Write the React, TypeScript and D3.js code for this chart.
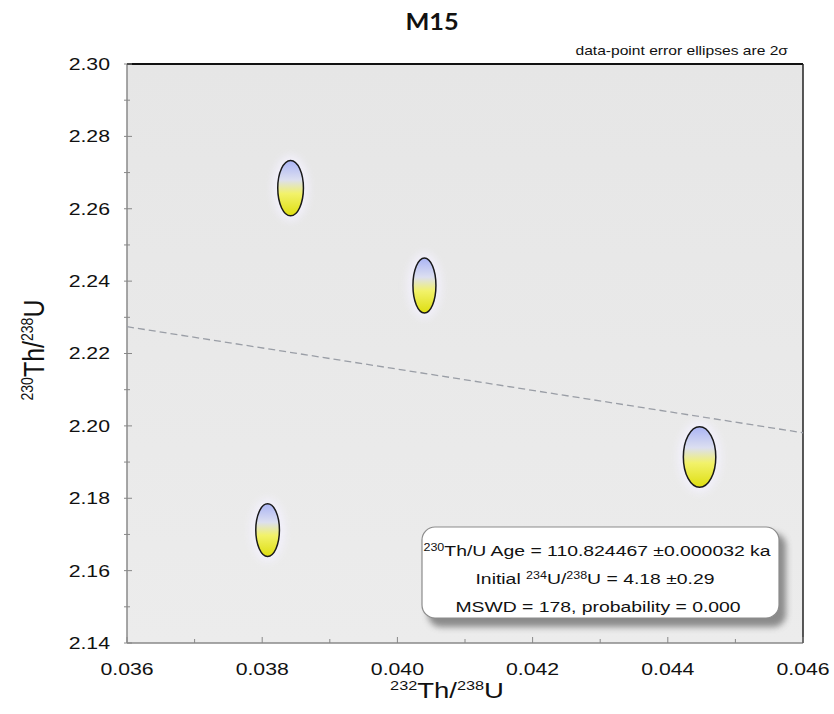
import React from "react";
import * as d3 from "d3";

// 232Th/238U vs 230Th/238U, 2-sigma half axes
const thX = [0.03808, 0.03842, 0.0404, 0.04447];
const thY = [2.1712, 2.2657, 2.2388, 2.1914];
const errX = [0.000175, 0.00019, 0.00017, 0.00024];
const errY = [0.00727, 0.00765, 0.0076, 0.00838];

// isochron (dashed)
const lineX = [0.036, 0.046];
const lineY = [2.2274, 2.1981];

const xTicks = [0.036, 0.038, 0.04, 0.042, 0.044, 0.046];
const yTicks = [2.14, 2.16, 2.18, 2.2, 2.22, 2.24, 2.26, 2.28, 2.3];
const xMinor = d3.range(0.036, 0.0465, 0.001);
const yMinor = d3.range(2.14, 2.305, 0.01);

const W = 834;
const H = 714;
const left = 127;
const right = 803;
const top = 64;
const bottom = 643;

const font = "'Liberation Sans', Arial, sans-serif";
const SX = 1.25; // the source picture is a bit stretched sideways

// text stretched horizontally around its anchor
const T = ({ x, y, sx = SX, children, ...rest }: any) => (
  <g transform={`translate(${x},${y}) scale(${sx},1)`}>
    <text x={0} y={0} fontFamily={font} fill="#111" {...rest}>
      {children}
    </text>
  </g>
);

const App = () => {
  const x = d3.scaleLinear().domain([0.036, 0.046]).range([left, right]);
  const y = d3.scaleLinear().domain([2.14, 2.3]).range([bottom, top]);

  const fitLine = d3
    .line<number>()
    .x((d) => x(d))
    .y((_, i) => y(lineY[i]));

  return (
    <svg
      width={W}
      height={H}
      style={{ position: "absolute", left: 0, top: 0, background: "#fff" }}
    >
      <defs>
        <linearGradient id="ellFill" x1="0" y1="0" x2="0" y2="1">
          <stop offset="0%" stopColor="#aab4f4" />
          <stop offset="35%" stopColor="#dcdff0" />
          <stop offset="60%" stopColor="#f2f26a" />
          <stop offset="100%" stopColor="#dede10" />
        </linearGradient>
        <linearGradient id="plotBg" x1="0" y1="0" x2="0" y2="1">
          <stop offset="0%" stopColor="#e6e6e6" />
          <stop offset="100%" stopColor="#ececec" />
        </linearGradient>
        <filter id="glow" x="-60%" y="-40%" width="220%" height="180%">
          <feGaussianBlur stdDeviation="4" />
        </filter>
        <filter id="shadow" x="-10%" y="-20%" width="130%" height="150%">
          <feGaussianBlur stdDeviation="3" />
        </filter>
      </defs>

      {/* plot area */}
      <rect x={left} y={top} width={right - left} height={bottom - top} fill="url(#plotBg)" />
      <line x1={left} y1={top} x2={left} y2={bottom} stroke="#8a8a8a" strokeWidth={1.5} />
      <line x1={left} y1={bottom} x2={right} y2={bottom} stroke="#8a8a8a" strokeWidth={1.5} />
      <line x1={left} y1={top} x2={right} y2={top} stroke="#111" strokeWidth={2} />
      <line x1={right} y1={top} x2={right} y2={bottom} stroke="#222" strokeWidth={1.5} />

      {/* ticks */}
      {yMinor.map((t, i) => (
        <line
          key={"ym" + i}
          x1={left - 3}
          x2={left + (i % 2 === 0 ? 5 : 3)}
          y1={y(t)}
          y2={y(t)}
          stroke="#888"
          strokeWidth={1}
        />
      ))}
      {xMinor.map((t, i) => (
        <line
          key={"xm" + i}
          x1={x(t)}
          x2={x(t)}
          y1={bottom}
          y2={bottom - (i % 2 === 0 ? 6 : 4)}
          stroke="#888"
          strokeWidth={1}
        />
      ))}

      {/* tick labels */}
      {yTicks.map((t) => (
        <T key={"yt" + t} x={110} y={y(t)} dy="0.35em" textAnchor="end" fontSize={17}>
          {d3.format(".2f")(t)}
        </T>
      ))}
      {xTicks.map((t) => (
        <T key={"xt" + t} x={x(t)} y={675} textAnchor="middle" fontSize={17}>
          {d3.format(".3f")(t)}
        </T>
      ))}

      {/* fit line */}
      <path
        d={fitLine(lineX) || ""}
        fill="none"
        stroke="#9a9ea6"
        strokeWidth={1.3}
        strokeDasharray="7 4"
      />

      {/* error ellipses */}
      {thX.map((v, i) => (
        <g key={"e" + i}>
          <ellipse
            cx={x(v)}
            cy={y(thY[i])}
            rx={x(v + errX[i]) - x(v) + 5}
            ry={y(thY[i] - errY[i]) - y(thY[i]) + 5}
            fill="#f4f2ff"
            opacity={0.9}
            filter="url(#glow)"
          />
          <ellipse
            cx={x(v)}
            cy={y(thY[i])}
            rx={x(v + errX[i]) - x(v)}
            ry={y(thY[i] - errY[i]) - y(thY[i])}
            fill="url(#ellFill)"
            stroke="#1a1a1a"
            strokeWidth={1.5}
          />
        </g>
      ))}

      {/* result box */}
      <rect x={428} y={533} width={358} height={94} rx={13} fill="#6a6a6a" opacity={0.75} filter="url(#shadow)" />
      <rect x={422} y={527} width={357} height={91} rx={13} fill="#fff" stroke="#8c8c8c" strokeWidth={1.2} />
      <T x={597} y={556} textAnchor="middle" fontSize={15.5}>
        <tspan fontSize={10} dy="-5">230</tspan>
        <tspan dy="5">Th/U  Age = 110.824467 ±0.000032  ka</tspan>
      </T>
      <T x={595} y={584} textAnchor="middle" fontSize={15.5}>
        Initial <tspan fontSize={10} dy="-5">234</tspan>
        <tspan dy="5">U/</tspan>
        <tspan fontSize={10} dy="-5">238</tspan>
        <tspan dy="5">U  = 4.18 ±0.29</tspan>
      </T>
      <T x={598} y={612} textAnchor="middle" fontSize={15.5}>
        MSWD = 178, probability = 0.000
      </T>

      {/* titles */}
      <T
        x={432}
        y={30}
        sx={1.15}
        textAnchor="middle"
        fontFamily="Lato, 'Open Sans', sans-serif"
        fontWeight={700}
        fontSize={22}
      >
        M15
      </T>
      <T x={788} y={55} textAnchor="end" fontSize={12.5}>
        data-point error ellipses are 2σ
      </T>
      <T x={447} y={698} textAnchor="middle" fontSize={22}>
        <tspan fontSize={13} dy="-8">232</tspan>
        <tspan dy="8">Th/</tspan>
        <tspan fontSize={13} dy="-8">238</tspan>
        <tspan dy="8">U</tspan>
      </T>
      <g transform="translate(44,350) scale(1.2,1) rotate(-90)">
        <text textAnchor="middle" fontFamily={font} fontSize={25} fill="#111">
          <tspan fontSize={14} dy="-9">230</tspan>
          <tspan dy="9">Th/</tspan>
          <tspan fontSize={14} dy="-9">238</tspan>
          <tspan dy="9">U</tspan>
        </text>
      </g>
    </svg>
  );
};

export default App;
